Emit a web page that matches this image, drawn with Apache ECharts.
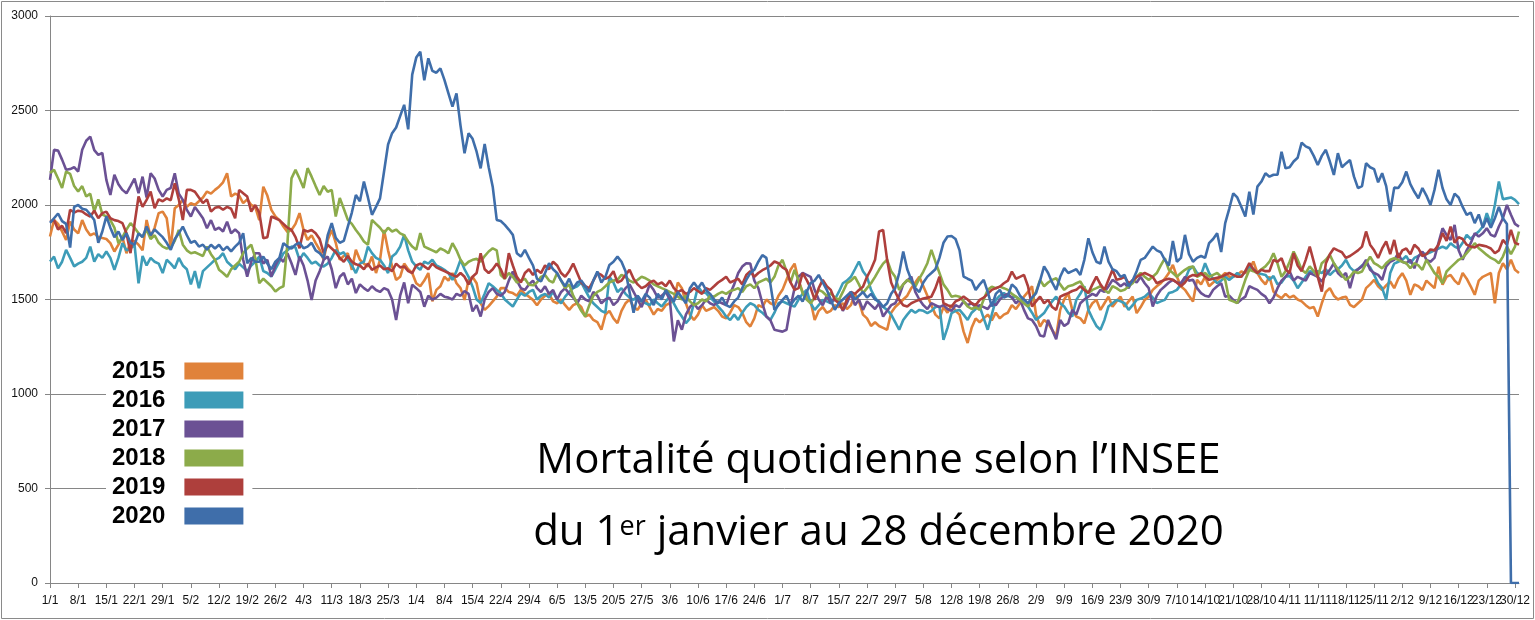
<!DOCTYPE html>
<html>
<head>
<meta charset="utf-8">
<script src="https://cdn.jsdelivr.net/npm/echarts@6/dist/echarts.min.js"></script>
<style>
html,body{margin:0;padding:0;background:#fff;}
#chart{width:1535px;height:620px;}
</style>
</head>
<body>
<div id="chart"></div>
<script>
// Category labels: every day of 2020 (leap year), "d/m"
const monthLengths = [31,29,31,30,31,30,31,31,30,31,30,31];
const categories = [];
monthLengths.forEach(function (n, m) { for (let d = 1; d <= n; d++) categories.push(d + '/' + (m + 1)); });

const seriesNames = ['2015', '2016', '2017', '2018', '2019', '2020'];
const yTicks = [0, 500, 1000, 1500, 2000, 2500, 3000];

const s2015 = [
1833,1921,1900,1860,1815,1912,1870,
1850,1920,1870,1840,1850,1830,1825,
1820,1798,1754,1790,1830,1745,1800,
1810,1790,1760,1921,1830,1880,1957,
1965,1930,1771,1983,2000,2027,1990,
2010,2000,2020,2040,2071,2060,2080,
2097,2120,2168,2045,2060,2050,2010,
2030,2000,1990,1920,2097,2050,1974,
1940,1920,1886,1857,1868,1900,1957,
1868,1815,1840,1800,1763,1710,1815,
1868,1800,1710,1730,1745,1657,1763,
1710,1690,1675,1727,1640,1710,1868,
1760,1675,1604,1620,1690,1660,1640,
1586,1570,1600,1640,1490,1551,1570,
1620,1600,1640,1586,1560,1498,1604,
1620,1586,1480,1445,1465,1490,1515,
1560,1560,1540,1534,1520,1551,1530,
1515,1498,1470,1500,1520,1530,1490,
1480,1500,1470,1445,1470,1480,1460,
1410,1420,1392,1380,1340,1420,1440,
1400,1375,1440,1480,1500,1460,1445,
1480,1500,1460,1420,1450,1440,1470,
1480,1500,1590,1560,1480,1420,1392,
1420,1470,1440,1450,1460,1440,1410,
1400,1430,1470,1460,1430,1380,1357,
1400,1470,1460,1500,1480,1470,1520,
1551,1604,1657,1690,1600,1540,1520,
1490,1392,1440,1460,1430,1440,1470,
1460,1480,1450,1470,1530,1490,1420,
1400,1360,1380,1360,1350,1340,1430,
1460,1480,1500,1520,1560,1590,1620,
1570,1520,1470,1420,1400,1460,1430,
1470,1440,1420,1330,1270,1350,1400,
1380,1400,1420,1390,1430,1400,1420,
1430,1470,1450,1480,1515,1540,1570,
1420,1357,1392,1374,1340,1304,1445,
1500,1534,1445,1410,1400,1374,1445,
1480,1498,1445,1480,1515,1462,1490,
1515,1462,1490,1515,1428,1460,1498,
1515,1551,1570,1586,1610,1640,1683,
1620,1570,1551,1520,1490,1604,1580,
1620,1570,1590,1604,1620,1640,1620,
1620,1630,1648,1640,1660,1701,1640,
1604,1580,1621,1542,1520,1507,1530,
1510,1520,1500,1490,1470,1454,1460,
1410,1480,1540,1560,1520,1500,1510,
1515,1472,1460,1480,1500,1560,1580,
1604,1570,1550,1575,1595,1560,1610,
1639,1600,1525,1580,1570,1550,1600,
1580,1560,1674,1578,1620,1630,1600,
1580,1640,1610,1570,1525,1600,1620,
1630,1640,1480,1640,1692,1660,1710,
1657,1640
];

const s2016 = [
1701,1727,1665,1700,1763,1720,1675,
1690,1700,1720,1780,1700,1740,1720,
1754,1720,1657,1720,1798,1760,1770,
1790,1586,1730,1680,1720,1700,1690,
1640,1710,1690,1665,1720,1680,1660,
1580,1650,1560,1650,1670,1690,1710,
1720,1745,1700,1680,1660,1690,1670,
1650,1680,1700,1727,1650,1640,1621,
1660,1700,1745,1760,1780,1775,1710,
1745,1720,1690,1700,1680,1675,1690,
1720,1763,1740,1750,1710,1680,1640,
1690,1700,1780,1745,1720,1710,1680,
1640,1727,1745,1780,1842,1760,1700,
1675,1657,1700,1690,1710,1680,1670,
1657,1640,1604,1650,1710,1660,1620,
1568,1500,1481,1530,1586,1570,1550,
1534,1500,1481,1463,1500,1534,1520,
1540,1551,1500,1520,1530,1510,1540,
1500,1480,1515,1540,1560,1570,1590,
1550,1510,1480,1460,1440,1430,1620,
1590,1540,1560,1530,1510,1498,1520,
1490,1480,1470,1500,1480,1463,1490,
1515,1480,1440,1410,1375,1400,1480,
1568,1540,1534,1510,1490,1463,1440,
1410,1392,1420,1392,1430,1460,1480,
1470,1445,1430,1410,1392,1430,1480,
1490,1480,1470,1463,1500,1530,1551,
1480,1445,1470,1498,1490,1480,1500,
1540,1586,1600,1620,1660,1701,1650,
1620,1551,1510,1480,1460,1445,1420,
1380,1340,1392,1420,1445,1430,1445,
1440,1428,1440,1460,1463,1287,1350,
1428,1440,1445,1420,1392,1430,1450,
1463,1400,1340,1420,1498,1520,1534,
1520,1510,1515,1500,1481,1463,1430,
1392,1410,1428,1463,1490,1515,1480,
1463,1430,1410,1498,1530,1570,1445,
1400,1360,1340,1392,1463,1480,1498,
1490,1480,1445,1470,1498,1505,1515,
1534,1510,1481,1490,1498,1534,1540,
1551,1580,1604,1657,1675,1640,1630,
1692,1640,1610,1586,1600,1620,1604,
1620,1640,1620,1650,1675,1660,1640,
1635,1630,1604,1624,1580,1590,1620,
1624,1600,1560,1590,1620,1650,1645,
1650,1640,1660,1630,1650,1660,1680,
1710,1670,1650,1660,1680,1690,1670,
1630,1586,1560,1498,1640,1690,1700,
1710,1730,1692,1720,1730,1745,1740,
1750,1760,1770,1780,1770,1798,1780,
1770,1800,1842,1820,1842,1860,1886,
1957,1900,2000,2124,2030,2035,2040,
2027,2005
];

const s2017 = [
2133,2292,2288,2240,2186,2190,2200,
2177,2292,2340,2362,2290,2265,2275,
2133,2053,2160,2110,2080,2062,2100,
2140,2062,2150,2040,2168,2140,2080,
2045,2080,2090,2168,2060,2027,1974,
1939,1990,1960,1930,1877,1920,1868,
1880,1860,1912,1850,1870,1851,1710,
1621,1700,1745,1745,1690,1710,1621,
1680,1720,1700,1745,1692,1630,1727,
1680,1600,1498,1600,1650,1710,1727,
1660,1560,1620,1640,1580,1610,1534,
1580,1560,1545,1570,1550,1540,1560,
1550,1500,1392,1520,1590,1480,1578,
1560,1540,1462,1520,1500,1510,1530,
1515,1510,1500,1530,1520,1545,1530,
1437,1470,1410,1500,1540,1560,1530,
1520,1540,1600,1648,1600,1560,1550,
1580,1600,1560,1540,1570,1530,1550,
1500,1540,1560,1530,1510,1480,1520,
1500,1490,1540,1520,1480,1500,1510,
1470,1490,1530,1560,1580,1540,1500,
1460,1520,1580,1550,1510,1520,1540,
1500,1278,1390,1340,1420,1460,1480,
1450,1470,1500,1480,1470,1490,1480,
1470,1530,1580,1640,1674,1692,1690,
1600,1560,1480,1410,1390,1340,1335,
1330,1340,1463,1560,1621,1640,1630,
1620,1550,1500,1470,1520,1480,1510,
1490,1440,1480,1530,1470,1500,1445,
1490,1470,1450,1480,1410,1440,1470,
1480,1520,1580,1600,1621,1540,1500,
1470,1450,1480,1470,1460,1470,1450,
1440,1470,1460,1490,1470,1480,1460,
1470,1460,1450,1480,1470,1500,1520,
1530,1510,1480,1500,1445,1400,1392,
1360,1310,1304,1392,1340,1290,1392,
1360,1375,1445,1420,1480,1500,1515,
1530,1520,1551,1540,1570,1604,1590,
1570,1586,1560,1604,1590,1620,1586,
1560,1463,1520,1551,1570,1590,1604,
1590,1586,1620,1600,1604,1560,1534,
1520,1515,1551,1570,1586,1515,1520,
1498,1481,1500,1515,1570,1560,1551,
1530,1515,1480,1510,1560,1600,1620,
1650,1600,1620,1610,1600,1640,1630,
1620,1595,1630,1657,1692,1640,1620,
1640,1560,1640,1660,1675,1710,1657,
1640,1630,1604,1675,1700,1710,1745,
1700,1692,1710,1665,1727,1754,1710,
1700,1720,1800,1877,1842,1815,1895,
1760,1710,1760,1798,1851,1833,1850,
1877,1842,1833,1886,1930,2000,1948,
1900,1886
];

const s2018 = [
2170,2186,2140,2090,2177,2165,2100,
2071,2100,2045,2060,1965,2030,1950,
1940,1920,1880,1798,1830,1870,1904,
1880,1850,1830,1870,1820,1840,1800,
1780,1770,1775,1810,1868,1790,1760,
1745,1750,1740,1730,1780,1740,1710,
1657,1640,1620,1660,1680,1700,1745,
1770,1790,1720,1586,1610,1590,1570,
1542,1560,1570,1798,2141,2186,2140,
2090,2195,2150,2100,2053,2100,2070,
2080,1939,2037,1980,1921,1900,1868,
1840,1807,1790,1921,1900,1880,1850,
1880,1860,1870,1850,1840,1807,1780,
1763,1851,1780,1770,1760,1750,1770,
1760,1745,1798,1760,1710,1680,1700,
1710,1715,1700,1730,1754,1771,1760,
1630,1610,1640,1620,1590,1600,1610,
1578,1575,1590,1620,1630,1600,1590,
1640,1600,1560,1580,1520,1480,1440,
1410,1470,1520,1540,1551,1570,1590,
1600,1604,1630,1620,1600,1590,1604,
1620,1612,1600,1580,1570,1560,1551,
1540,1530,1515,1500,1520,1490,1470,
1480,1500,1490,1520,1515,1530,1540,
1530,1545,1551,1560,1540,1570,1580,
1560,1590,1600,1610,1590,1620,1680,
1710,1650,1590,1657,1600,1534,1500,
1480,1510,1551,1540,1520,1534,1510,
1498,1540,1586,1600,1620,1580,1534,
1560,1586,1620,1657,1690,1710,1650,
1620,1551,1580,1604,1590,1568,1610,
1648,1692,1763,1700,1640,1580,1551,
1515,1520,1515,1490,1463,1450,1460,
1445,1500,1551,1568,1560,1568,1560,
1551,1530,1515,1498,1480,1463,1500,
1540,1604,1570,1590,1604,1612,1580,
1551,1570,1575,1586,1595,1560,1534,
1551,1560,1570,1550,1534,1570,1560,
1545,1551,1570,1586,1620,1640,1620,
1604,1620,1640,1680,1718,1657,1640,
1620,1640,1657,1670,1675,1620,1630,
1640,1620,1630,1640,1620,1604,1498,
1490,1481,1540,1604,1657,1650,1640,
1660,1675,1700,1745,1690,1620,1650,
1700,1754,1710,1657,1640,1675,1650,
1620,1692,1710,1736,1692,1660,1630,
1604,1620,1648,1640,1648,1690,1727,
1692,1680,1665,1692,1710,1718,1710,
1700,1692,1665,1692,1680,1657,1710,
1675,1640,1620,1586,1648,1670,1690,
1710,1720,1745,1770,1798,1771,1754,
1736,1720,1710,1692,1727,1780,1740,
1780,1860
];

const s2019 = [
1912,1920,1870,1890,1851,1975,1960,
1970,1966,1950,1939,1970,1930,1957,
1965,1930,1920,1915,1904,1850,1745,
1900,2045,1990,2027,2071,1983,2030,
2020,2035,2025,2115,2030,1920,2080,
2080,2070,2040,2010,2030,1965,1985,
1990,1975,1990,1980,1930,2080,2062,
2045,1965,2000,1960,1824,1830,1939,
1930,1920,1900,1880,1868,1830,1771,
1868,1860,1868,1850,1820,1745,1790,
1770,1750,1720,1700,1730,1700,1686,
1680,1660,1690,1657,1670,1680,1660,
1665,1650,1690,1670,1675,1650,1640,
1680,1690,1675,1660,1690,1670,1660,
1650,1640,1630,1620,1640,1620,1580,
1620,1640,1745,1660,1640,1660,1690,
1660,1610,1745,1680,1620,1590,1640,
1660,1630,1657,1640,1680,1660,1700,
1680,1640,1620,1650,1690,1640,1590,
1570,1560,1600,1640,1630,1610,1620,
1650,1590,1600,1630,1657,1610,1580,
1560,1570,1590,1600,1580,1590,1570,
1600,1560,1540,1550,1530,1540,1560,
1545,1530,1560,1551,1570,1590,1604,
1620,1590,1600,1610,1580,1630,1650,
1620,1640,1655,1666,1680,1701,1692,
1670,1657,1590,1551,1560,1640,1604,
1560,1498,1560,1604,1570,1551,1498,
1480,1445,1500,1540,1530,1550,1568,
1620,1660,1710,1860,1868,1710,1590,
1540,1498,1470,1463,1480,1490,1498,
1505,1510,1515,1560,1621,1480,1470,
1463,1490,1500,1515,1500,1480,1470,
1498,1510,1530,1551,1560,1568,1586,
1600,1648,1610,1620,1630,1570,1463,
1490,1515,1480,1498,1460,1445,1515,
1525,1534,1545,1551,1570,1550,1534,
1580,1621,1580,1551,1604,1657,1604,
1610,1620,1586,1600,1620,1630,1640,
1630,1620,1586,1595,1604,1610,1604,
1590,1570,1590,1620,1630,1625,1640,
1620,1604,1610,1615,1620,1630,1640,
1630,1620,1620,1650,1692,1660,1640,
1657,1650,1650,1710,1700,1718,1660,
1640,1745,1680,1650,1710,1780,1700,
1620,1542,1690,1740,1771,1760,1750,
1720,1730,1745,1760,1780,1860,1790,
1760,1720,1770,1807,1740,1815,1720,
1760,1770,1740,1790,1770,1730,1740,
1765,1760,1790,1851,1810,1886,1800,
1830,1820,1790,1780,1775,1790,1785,
1780,1770,1745,1760,1815,1790,1868,
1800,1790
];

const s2020 = [
1905,1930,1955,1915,1900,1775,1990,
2000,1980,1975,1950,1920,1800,1860,
1940,1880,1830,1860,1815,1850,1800,
1790,1850,1830,1886,1840,1870,1850,
1830,1800,1763,1820,1850,1886,1840,
1800,1810,1780,1790,1763,1790,1770,
1790,1760,1780,1755,1780,1800,1851,
1692,1720,1700,1700,1727,1690,1660,
1700,1720,1798,1780,1770,1790,1800,
1771,1780,1800,1760,1745,1720,1840,
1904,1826,1800,1810,1886,1960,2053,
2020,2124,2040,1948,1990,2035,2177,
2320,2380,2410,2470,2530,2400,2690,
2780,2811,2660,2776,2710,2700,2723,
2662,2591,2520,2591,2420,2274,2380,
2350,2282,2194,2323,2200,2097,1921,
1915,1895,1870,1842,1745,1727,1763,
1720,1680,1610,1595,1640,1692,1660,
1640,1600,1570,1610,1560,1590,1600,
1570,1540,1600,1648,1590,1620,1683,
1700,1727,1700,1650,1540,1430,1520,
1490,1530,1510,1470,1530,1500,1550,
1520,1490,1540,1510,1480,1560,1590,
1560,1590,1550,1530,1500,1480,1510,
1470,1460,1490,1510,1560,1604,1640,
1657,1700,1735,1720,1580,1445,1470,
1498,1520,1470,1500,1520,1490,1540,
1587,1600,1630,1590,1551,1500,1445,
1480,1500,1520,1540,1500,1520,1540,
1510,1530,1500,1490,1460,1480,1530,
1560,1640,1754,1660,1604,1560,1540,
1590,1621,1640,1660,1720,1800,1833,
1836,1820,1760,1621,1610,1600,1551,
1580,1604,1540,1463,1530,1551,1510,
1520,1580,1560,1520,1500,1480,1510,
1534,1600,1675,1640,1590,1551,1620,
1666,1640,1650,1660,1630,1710,1824,
1750,1700,1690,1780,1700,1660,1650,
1620,1630,1570,1600,1650,1710,1720,
1750,1780,1760,1750,1710,1680,1810,
1700,1720,1842,1740,1700,1720,1730,
1720,1798,1820,1851,1751,1904,1980,
2062,2040,1991,1939,2070,1950,2097,
2124,2168,2150,2160,2160,2282,2194,
2200,2230,2250,2330,2310,2300,2260,
2212,2260,2292,2230,2159,2274,2200,
2220,2238,2150,2089,2100,2221,2200,
2190,2120,2168,2100,1966,2092,2090,
2120,2177,2110,2070,2036,2090,2050,
2000,2080,2186,2090,2030,2000,2060,
2040,1990,1948,1960,1904,1950,1880,
1930,1880,1930,1990,1930,1900,0,
0,0
];

const seriesColors = ['#E0823A', '#3D9CB8', '#6B5194', '#8CAB4A', '#AE3F3C', '#3F6EAA'];
const seriesValues = [s2015, s2016, s2017, s2018, s2019, s2020];

const chart = echarts.init(document.getElementById('chart'), null, { renderer: 'canvas' });

const xLabelStyle = { margin: 11, fontFamily: 'Liberation Sans', fontSize: 12, lineHeight: 14, color: '#111' };

const option = {
  animation: false,
  backgroundColor: '#ffffff',
  color: seriesColors,
  grid: { left: 50, right: 16, top: 16, bottom: 37, containLabel: false, outerBoundsMode: 'none' },
  title: {
    text: '{m|Mortalité quotidienne selon l’INSEE}\n{m|du 1}{s|er}{m| janvier au 28 décembre 2020}',
    left: 873.5,
    top: 420,
    textAlign: 'center',
    textStyle: {
      fontWeight: 'normal',
      rich: {
        m: { fontFamily: 'Open Sans', fontSize: 42, fontWeight: 'normal', lineHeight: 72, color: '#000' },
        s: { fontFamily: 'Open Sans', fontSize: 27, fontWeight: 'normal', lineHeight: 60, padding: [0, 0, 12, 0], color: '#000' }
      }
    }
  },
  legend: {
    data: seriesNames,
    orient: 'vertical',
    left: 106,
    top: 353,
    align: 'right',
    icon: 'rect',
    itemWidth: 59,
    itemHeight: 17,
    itemGap: 5,
    padding: [6, 9, 6, 6],
    backgroundColor: '#ffffff',
    selectedMode: false,
    itemStyle: { borderWidth: 0 },
    textStyle: { fontFamily: 'Liberation Sans', fontSize: 24, fontWeight: 'bold', color: '#000', lineHeight: 24, padding: [0, 14, 0, 0] }
  },
  xAxis: [{
    type: 'category',
    data: categories,
    boundaryGap: false,
    position: 'bottom',
    axisLine: { lineStyle: { color: '#868686', width: 1 } },
    axisTick: { show: true, interval: 6, length: 5, lineStyle: { color: '#868686' } },
    axisLabel: Object.assign({ interval: function (i) { return i % 14 === 0; } }, xLabelStyle),
    splitLine: { show: false }
  }, {
    type: 'category',
    data: categories,
    boundaryGap: false,
    position: 'bottom',
    axisLine: { show: false },
    axisTick: { show: false },
    axisLabel: Object.assign({ interval: function (i) { return i % 14 === 7; } }, xLabelStyle),
    splitLine: { show: false }
  }],
  yAxis: {
    type: 'value',
    min: yTicks[0],
    max: yTicks[yTicks.length - 1],
    interval: 500,
    axisLine: { show: true, lineStyle: { color: '#868686', width: 1 } },
    axisTick: { show: true, length: 5, lineStyle: { color: '#868686' } },
    axisLabel: { margin: 12, fontFamily: 'Liberation Sans', fontSize: 12, color: '#111', formatter: function (v) { return String(v); } },
    splitLine: { show: true, lineStyle: { color: '#868686', width: 1 } }
  },
  graphic: [{
    type: 'rect',
    z: 100,
    silent: true,
    shape: { x: 1.5, y: 1.5, width: 1532, height: 617 },
    style: { fill: 'none', stroke: '#8a8a8a', lineWidth: 1 }
  }],
  series: seriesNames.map(function (name, i) {
    return {
      name: name,
      type: 'line',
      xAxisIndex: 0,
      data: seriesValues[i],
      showSymbol: false,
      symbol: 'none',
      lineStyle: { width: 2.6, color: seriesColors[i] },
      itemStyle: { color: seriesColors[i] },
      emphasis: { disabled: true }
    };
  })
};

chart.setOption(option);
</script>
</body>
</html>
